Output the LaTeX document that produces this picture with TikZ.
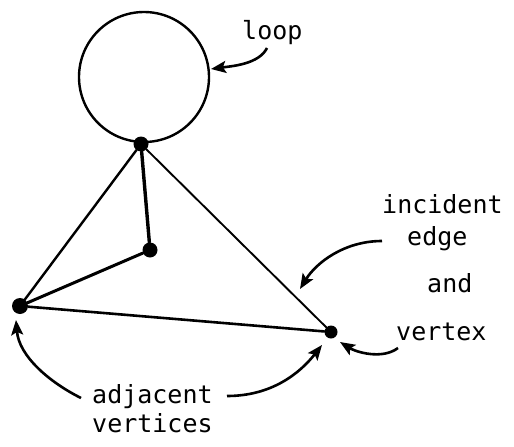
\documentclass[tikz,border=0pt]{standalone}
\usepackage{fontspec}
\setmonofont{DejaVu Sans Mono}
\usetikzlibrary{arrows.meta}
\begin{document}
\begin{tikzpicture}[x=1pt,y=-1pt,
  vdot/.style={circle,fill=black,inner sep=0pt,minimum size=#1},
  edgeline/.style={line width=#1,line cap=round},
  pointer/.style={line width=2.6pt,-{Stealth[length=15pt,width=12pt,inset=3pt]}},
  lbl/.style={anchor=base west,inner sep=0pt,font=\ttfamily\fontsize{25}{27}\selectfont}]
\useasboundingbox (0,0) rectangle (514,447);
% vertices
\node[vdot=15pt] (T) at (141,144) {};
\node[vdot=15pt] (M) at (150,250) {};
\node[vdot=16pt] (L) at (20,306) {};
\node[vdot=13pt] (R) at (331,332) {};
% loop
\coordinate (LC) at (144,77);
\draw[line width=2.4pt] (LC) circle[radius=65];
% edges
\draw[edgeline=2.4pt] (T) -- (L);
\draw[edgeline=3.4pt] (T) -- (M);
\draw[edgeline=3pt] (M) -- (L);
\draw[edgeline=2.6pt] (L) -- (R);
\draw[edgeline=1.9pt] (T) -- (R);
% labels
\node[lbl] (loop) at (242,39) {loop};
\node[lbl] (inc) at (382,213) {incident};
\node[lbl] (edge) at (407,245) {edge};
\node[lbl] (and) at (427,292) {and};
\node[lbl] (vtx) at (396,340) {vertex};
\node[lbl] (adj) at (92,403) {adjacent};
\node[lbl] (vts) at (92,432) {vertices};
% arrow ends
\coordinate (lpA) at (267,48);
\coordinate (lpB) at (211,69);
\coordinate (ieA) at (382,241);
\coordinate (ieB) at (300,289);
\coordinate (vxA) at (398,348);
\coordinate (vxB) at (340,342);
\coordinate (adA) at (227,396);
\coordinate (adB) at (322,345);
\coordinate (adC) at (81,398);
\coordinate (adD) at (16,320);
% pointers
\draw[pointer] (lpA) .. controls +(-8,16) and +(22,-3) .. (lpB);
\draw[pointer] (ieA) .. controls +(-38,0) and +(16,-26) .. (ieB);
\draw[pointer] (vxA) .. controls +(-16,12) and +(16,10) .. (vxB);
\draw[pointer] (adA) .. controls +(45,0) and +(-22,28) .. (adB);
\draw[pointer] (adC) .. controls +(-32,-16) and +(3,36) .. (adD);
\end{tikzpicture}
\end{document}
